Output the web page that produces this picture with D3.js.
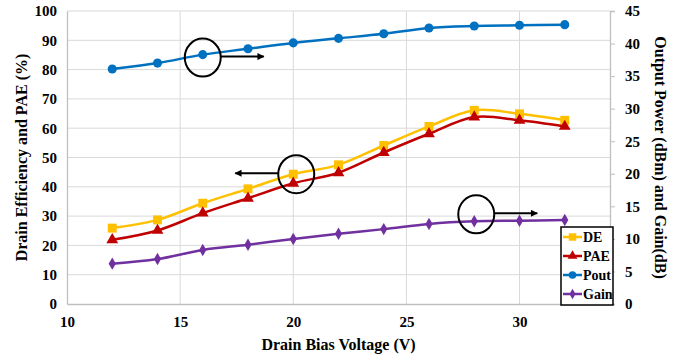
<!DOCTYPE html>
<html>
<head>
<meta charset="utf-8">
<script src="https://cdn.jsdelivr.net/npm/d3@7"></script>
<style>
  body { margin: 0; background: #fff; }
</style>
</head>
<body>
<div id="chart"></div>
<script>

// Data arrays
let voltage = [12, 14, 16, 18, 20, 22, 24, 26, 28, 30, 32];
let de   = [25.9, 28.7, 34.4, 39.3, 44.3, 47.5, 54.1, 60.6, 66.1, 64.9, 62.7];
let pae  = [21.9, 25.1, 31.0, 36.1, 41.2, 44.8, 51.7, 58.1, 63.8, 62.7, 60.6];
let pout = [36.1, 37.0, 38.3, 39.2, 40.1, 40.8, 41.5, 42.4, 42.7, 42.8, 42.9];
let gain = [6.2, 6.9, 8.3, 9.1, 10.0, 10.8, 11.5, 12.3, 12.7, 12.8, 12.9];

// Tick labels
let xTicks = [10, 15, 20, 25, 30];
let leftTicks = [0, 10, 20, 30, 40, 50, 60, 70, 80, 90, 100];
let rightTicks = [0, 5, 10, 15, 20, 25, 30, 35, 40, 45];

let width = 677, height = 362;
let plotLeft = 67, plotRight = 610, plotTop = 11, plotBottom = 304;

let svg = d3.select("#chart")
  .append("svg")
  .attr("width", width)
  .attr("height", height)
  .style("font-family", "Liberation Serif")
  .style("font-weight", "bold");

let x = d3.scaleLinear().domain([10, 34]).range([plotLeft, plotRight]);
let yL = d3.scaleLinear().domain([0, 100]).range([plotBottom, plotTop]);
let yR = d3.scaleLinear().domain([0, 45]).range([plotBottom, plotTop]);

// Gridlines
svg.append("g")
  .selectAll("line")
  .data(leftTicks.slice(1))
  .enter()
  .append("line")
  .attr("x1", plotLeft).attr("x2", plotRight)
  .attr("y1", d => yL(d)).attr("y2", d => yL(d))
  .attr("stroke", "#d9d9d9").attr("stroke-width", 1);

svg.append("g")
  .selectAll("line")
  .data(xTicks.slice(1))
  .enter()
  .append("line")
  .attr("x1", d => x(d)).attr("x2", d => x(d))
  .attr("y1", plotTop).attr("y2", plotBottom)
  .attr("stroke", "#d9d9d9").attr("stroke-width", 1);

// Axes
let gx = svg.append("g")
  .attr("transform", `translate(0,${plotBottom})`)
  .call(d3.axisBottom(x).tickValues(xTicks).tickSize(0).tickPadding(12));
let gl = svg.append("g")
  .attr("transform", `translate(${plotLeft},0)`)
  .call(d3.axisLeft(yL).tickValues(leftTicks).tickSize(0).tickPadding(10));
let gr = svg.append("g")
  .attr("transform", `translate(${plotRight},0)`)
  .call(d3.axisRight(yR).tickValues(rightTicks).tickSize(5).tickPadding(10));

[gx, gl, gr].forEach(g => {
  g.attr("font-family", null).attr("font-size", null)
    .style("font-size", "15px");
  g.selectAll(".domain").attr("stroke", "#bfbfbf").attr("stroke-width", 1.3);
  g.selectAll(".tick line").attr("stroke", "#bfbfbf");
  g.selectAll(".tick text").attr("fill", "#000");
});

// Axis titles
svg.append("text")
  .attr("transform", `translate(27,${(plotTop + plotBottom) / 2}) rotate(-90)`)
  .attr("text-anchor", "middle")
  .style("font-size", "16px")
  .text("Drain Efficiency and PAE (%)");

svg.append("text")
  .attr("transform", `translate(655,${(plotTop + plotBottom) / 2}) rotate(90)`)
  .attr("text-anchor", "middle")
  .style("font-size", "16px")
  .text("Output Power (dBm) and Gain(dB)");

svg.append("text")
  .attr("x", (plotLeft + plotRight) / 2)
  .attr("y", 350)
  .attr("text-anchor", "middle")
  .style("font-size", "16px")
  .text("Drain Bias Voltage (V)");

// Series
let series = [
  { name: "DE", values: de, y: yL, color: "#ffc000", symbol: d3.symbolSquare, size: 80 },
  { name: "PAE", values: pae, y: yL, color: "#c00000", symbol: d3.symbolTriangle, size: 60 },
  { name: "Pout", values: pout, y: yR, color: "#0070c0", symbol: d3.symbolCircle, size: 65 },
  { name: "Gain", values: gain, y: yR, color: "#7030a0", symbol: d3.symbolDiamond, size: 45 }
];

series.forEach(s => {
  let line = d3.line()
    .x((d, i) => x(voltage[i]))
    .y(d => s.y(d))
    .curve(d3.curveCatmullRom.alpha(0));

  svg.append("path")
    .datum(s.values)
    .attr("d", line)
    .attr("fill", "none")
    .attr("stroke", s.color)
    .attr("stroke-width", 2.5);

  svg.append("g")
    .selectAll("path")
    .data(s.values)
    .enter()
    .append("path")
    .attr("d", d3.symbol().type(s.symbol).size(s.size))
    .attr("transform", (d, i) => `translate(${x(voltage[i])},${s.y(d)})`)
    .attr("fill", s.color);
});

// Annotation circles with arrows (which point, which way the arrow goes)
let notes = [
  { values: pout, y: yR, i: 2, dx: 0, dy: 3, dir: 1 },
  { values: de, y: yL, i: 4, dx: 3, dy: 0, dir: -1 },
  { values: gain, y: yR, i: 8, dx: 2, dy: -7, dir: 1 }
];

let defs = svg.append("defs");
defs.append("marker")
  .attr("id", "arrow")
  .attr("viewBox", "0 0 10 10")
  .attr("refX", 9).attr("refY", 5)
  .attr("markerWidth", 4).attr("markerHeight", 3.5)
  .attr("orient", "auto")
  .append("path")
  .attr("d", "M0,0 L10,5 L0,10 z")
  .attr("fill", "#000");

notes.forEach(n => {
  let cx = x(voltage[n.i]) + n.dx;
  let cy = n.y(n.values[n.i]) + n.dy;
  let r = 18;
  svg.append("ellipse")
    .attr("cx", cx).attr("cy", cy)
    .attr("rx", r).attr("ry", r + 1)
    .attr("fill", "none")
    .attr("stroke", "#000")
    .attr("stroke-width", 2);
  svg.append("line")
    .attr("x1", cx + n.dir * r).attr("y1", cy - 1)
    .attr("x2", cx + n.dir * (r + 43)).attr("y2", cy - 1)
    .attr("stroke", "#000")
    .attr("stroke-width", 2)
    .attr("marker-end", "url(#arrow)");
});

// Legend
let legend = svg.append("g").attr("transform", "translate(561,227)");
legend.append("rect")
  .attr("width", 52).attr("height", 78)
  .attr("fill", "#fff")
  .attr("stroke", "#000")
  .attr("stroke-width", 1.5);

let items = legend.selectAll("g")
  .data(series)
  .enter()
  .append("g")
  .attr("transform", (d, i) => `translate(0,${10 + i * 19})`);

items.append("line")
  .attr("x1", 2).attr("x2", 21)
  .attr("stroke", d => d.color)
  .attr("stroke-width", 2.5);

items.append("path")
  .attr("d", d => d3.symbol().type(d.symbol).size(d.size * 0.7)())
  .attr("transform", "translate(11.5,0)")
  .attr("fill", d => d.color);

items.append("text")
  .attr("x", 22)
  .attr("y", 5)
  .style("font-size", "14px")
  .text(d => d.name);

</script>
</body>
</html>
